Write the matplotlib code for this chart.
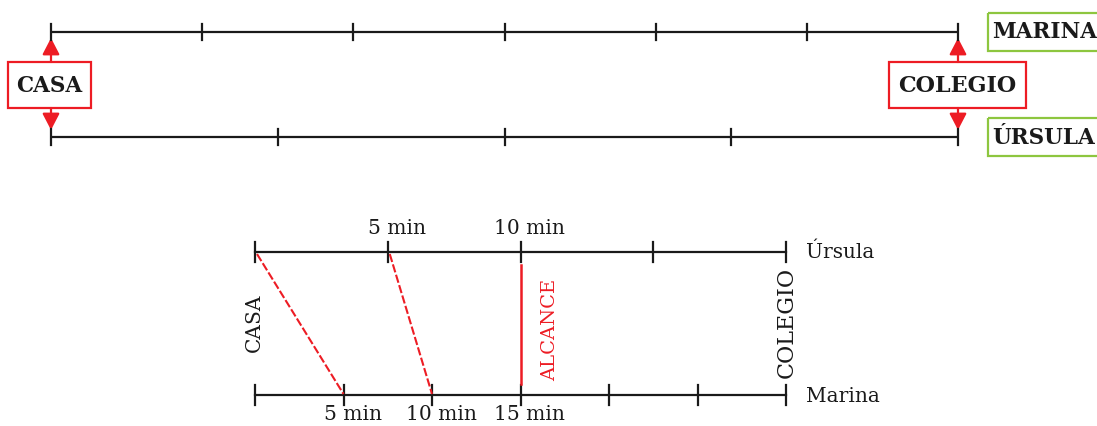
import matplotlib
matplotlib.use("Agg")
import matplotlib.pyplot as plt
from matplotlib.patches import Rectangle, FancyArrowPatch

# ---------------- data ----------------
# top diagram: same route split into equal steps
marina_steps = 6
ursula_steps = 4
top_names = ["MARINA", "ÚRSULA"]
endpoints = ["CASA", "COLEGIO"]

# bottom diagram: minutes marked along each route
ursula_minutes = [0, 5, 10, 15, 20]
marina_minutes = [0, 5, 10, 15, 20, 25, 30]
ursula_labels = {5: "5 min", 10: "10 min"}
marina_labels = {5: "5 min", 10: "10 min", 15: "15 min"}
# chase lines (Úrsula minute, Marina minute)
chase = [(0, 5), (5, 10)]
catch_up = (10, 15)
catch_text = "ALCANCE"
bottom_names = ["Úrsula", "Marina"]

RED = "#ED1C24"
GREEN = "#8DC63F"
BLACK = "#1a1a1a"

W, H = 1097, 426
fig = plt.figure(figsize=(W / 100, H / 100), dpi=100)
ax = fig.add_axes([0, 0, 1, 1])
ax.set_xlim(0, W)
ax.set_ylim(H, 0)
ax.axis("off")

serif = "DejaVu Serif"
FS_TOP = 15.5
FS_BOT = 14.5

# ---------- top diagram ----------
tx0, tx1 = 51, 958
y_mar, y_urs = 32, 137
tick = 8


def tpos(frac):
    return tx0 + frac * (tx1 - tx0)


for y, n in [(y_mar, marina_steps), (y_urs, ursula_steps)]:
    ax.plot([tx0, tx1], [y, y], color=BLACK, lw=1.6, solid_capstyle="butt")
    for i in range(n + 1):
        x = tpos(i / n)
        ax.plot([x, x], [y - tick, y + tick], color=BLACK, lw=1.6)

# endpoint boxes
box_specs = [(tpos(0), 8, 91, endpoints[0], FS_TOP),
             (tpos(1), 889, 1026, endpoints[1], FS_TOP + 0.5)]
for xc, bl, br, label, fs in box_specs:
    ax.add_patch(Rectangle((bl, 62), br - bl, 46, fill=False, ec=RED, lw=1.6))
    ax.text((bl + br) / 2, 85.5, label, ha="center", va="center",
            fontsize=fs, fontweight="bold", family=serif, color=BLACK)
    for y_from, y_to in [(62, y_mar + 6), (108, y_urs - 7)]:
        ax.add_patch(FancyArrowPatch((xc, y_from), (xc, y_to),
                                     arrowstyle="-|>,head_length=10,head_width=5.2",
                                     color=RED, lw=1.6, mutation_scale=1,
                                     shrinkA=0, shrinkB=0))

# name boxes
for name, yc in zip(top_names, [y_mar, y_urs]):
    ax.add_patch(Rectangle((988, yc - 19), 130, 38, fill=False, ec=GREEN, lw=1.6,
                           clip_on=False))
    ax.text(992, yc + 0.5, name, ha="left", va="center", fontsize=FS_TOP,
            fontweight="bold", family=serif, color=BLACK)

# ---------- bottom diagram ----------
bx0, bx1 = 255, 786
y_u, y_m = 252, 395
btick = 10


def bpos(minute, total):
    return bx0 + minute / total * (bx1 - bx0)


u_tot = ursula_minutes[-1]
m_tot = marina_minutes[-1]

for y, mins, tot in [(y_u, ursula_minutes, u_tot), (y_m, marina_minutes, m_tot)]:
    ax.plot([bx0, bx1], [y, y], color=BLACK, lw=1.6)
    for mn in mins:
        x = bpos(mn, tot)
        ax.plot([x, x], [y - btick, y + btick], color=BLACK, lw=1.6)

for mn, lab in ursula_labels.items():
    ax.text(bpos(mn, u_tot) + 9, 228, lab, ha="center", va="center",
            fontsize=FS_BOT, family=serif, color=BLACK)
for mn, lab in marina_labels.items():
    ax.text(bpos(mn, m_tot) + 9, 415, lab, ha="center", va="center",
            fontsize=FS_BOT, family=serif, color=BLACK)

for um, mm in chase:
    ax.plot([bpos(um, u_tot) + 2, bpos(mm, m_tot)], [y_u + 2, y_m - 1],
            color=RED, lw=1.5, linestyle=(0, (4, 1.2)))

cx = bpos(catch_up[0], u_tot)
ax.plot([cx, cx], [265, 384], color=RED, lw=1.8)
ax.text(cx + 30, 330, catch_text, rotation=90, ha="center", va="center",
        fontsize=FS_BOT - 0.5, family=serif, color=RED)

ax.text(bx0 - 1, 323, endpoints[0], rotation=90, ha="center", va="center",
        fontsize=FS_BOT, family=serif, color=BLACK)
ax.text(bx1 + 1, 322, endpoints[1], rotation=90, ha="center", va="center",
        fontsize=FS_BOT + 1.5, family=serif, color=BLACK)

ax.text(806, y_u, bottom_names[0], ha="left", va="center",
        fontsize=FS_BOT, family=serif, color=BLACK)
ax.text(806, y_m + 2, bottom_names[1], ha="left", va="center",
        fontsize=FS_BOT, family=serif, color=BLACK)

fig.savefig("out.png", dpi=100, facecolor="white")
